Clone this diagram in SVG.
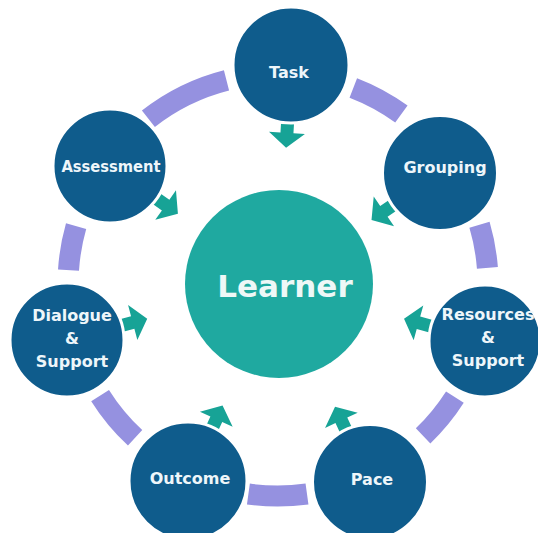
<svg xmlns="http://www.w3.org/2000/svg" width="538" height="533" viewBox="0 0 538 533">
<style>
.ring{fill:none;stroke:#9591e0;stroke-width:21;stroke-linecap:butt}
.node{fill:#0f5c8c;stroke:#ffffff;stroke-width:3}
.lbl{font-family:"DejaVu Sans","Liberation Sans",sans-serif;font-weight:bold;font-size:16px;fill:#eef6fa;text-anchor:middle}
.arr{fill:#17a396}
</style>
<defs>
<path id="arrow" d="M40,-6.5 H68 V-18 L83,0 L68,18 V6.5 H40 Z"/>
</defs>
<rect width="538" height="533" fill="#ffffff"/>
<g id="connectors">
<path class="ring" d="M353.3,88 A210,210 0 0 1 401.4,114.1"/>
<path class="ring" d="M479.5,224.7 A210,210 0 0 1 487.4,267.9"/>
<path class="ring" d="M454.9,397.1 A210,210 0 0 1 423.1,435.8"/>
<path class="ring" d="M307,494 A212,212 0 0 1 248.4,494"/>
<path class="ring" d="M135.1,437.8 A210,210 0 0 1 100.1,395.6"/>
<path class="ring" d="M68.5,270.1 A210,210 0 0 1 76.1,226.1"/>
<path class="ring" d="M148.4,118.8 A210,210 0 0 1 226.5,80.4"/>
<use href="#arrow" class="arr" transform="translate(291,65) rotate(93.4)"/>
<use href="#arrow" class="arr" transform="translate(440,173) rotate(145.6)"/>
<use href="#arrow" class="arr" transform="translate(484,341) rotate(195.5)"/>
<use href="#arrow" class="arr" transform="translate(370,482) rotate(245.1)"/>
<use href="#arrow" class="arr" transform="translate(188,481) rotate(-65.4)"/>
<use href="#arrow" class="arr" transform="translate(67,340) rotate(-14.9)"/>
<use href="#arrow" class="arr" transform="translate(110,166) rotate(35.1)"/>
</g>
<g id="learner">
<circle cx="279" cy="284" r="94" fill="#1fa9a0"/>
<text x="285" y="297" font-family="'DejaVu Sans','Liberation Sans',sans-serif" font-weight="bold" font-size="31" fill="#eef8f7" text-anchor="middle">Learner</text>
</g>
<g id="task">
<circle class="node" cx="291" cy="65" r="58"/>
<text class="lbl" x="289" y="78">Task</text>
</g>
<g id="grouping">
<circle class="node" cx="440" cy="173" r="57.5"/>
<text class="lbl" x="445" y="173">Grouping</text>
</g>
<g id="resources">
<circle class="node" cx="485" cy="341" r="56"/>
<text class="lbl" x="488" y="320">Resources</text>
<text class="lbl" x="488" y="343">&amp;</text>
<text class="lbl" x="488" y="366">Support</text>
</g>
<g id="pace">
<circle class="node" cx="370" cy="482" r="57.5"/>
<text class="lbl" x="372" y="485">Pace</text>
</g>
<g id="outcome">
<circle class="node" cx="188" cy="481" r="59"/>
<text class="lbl" x="190" y="484">Outcome</text>
</g>
<g id="dialogue">
<circle class="node" cx="67" cy="340" r="57"/>
<text class="lbl" x="72" y="321">Dialogue</text>
<text class="lbl" x="72" y="344">&amp;</text>
<text class="lbl" x="72" y="367">Support</text>
</g>
<g id="assessment">
<circle class="node" cx="110" cy="166" r="57"/>
<text class="lbl" x="111" y="172" textLength="99" lengthAdjust="spacingAndGlyphs">Assessment</text>
</g>
</svg>
